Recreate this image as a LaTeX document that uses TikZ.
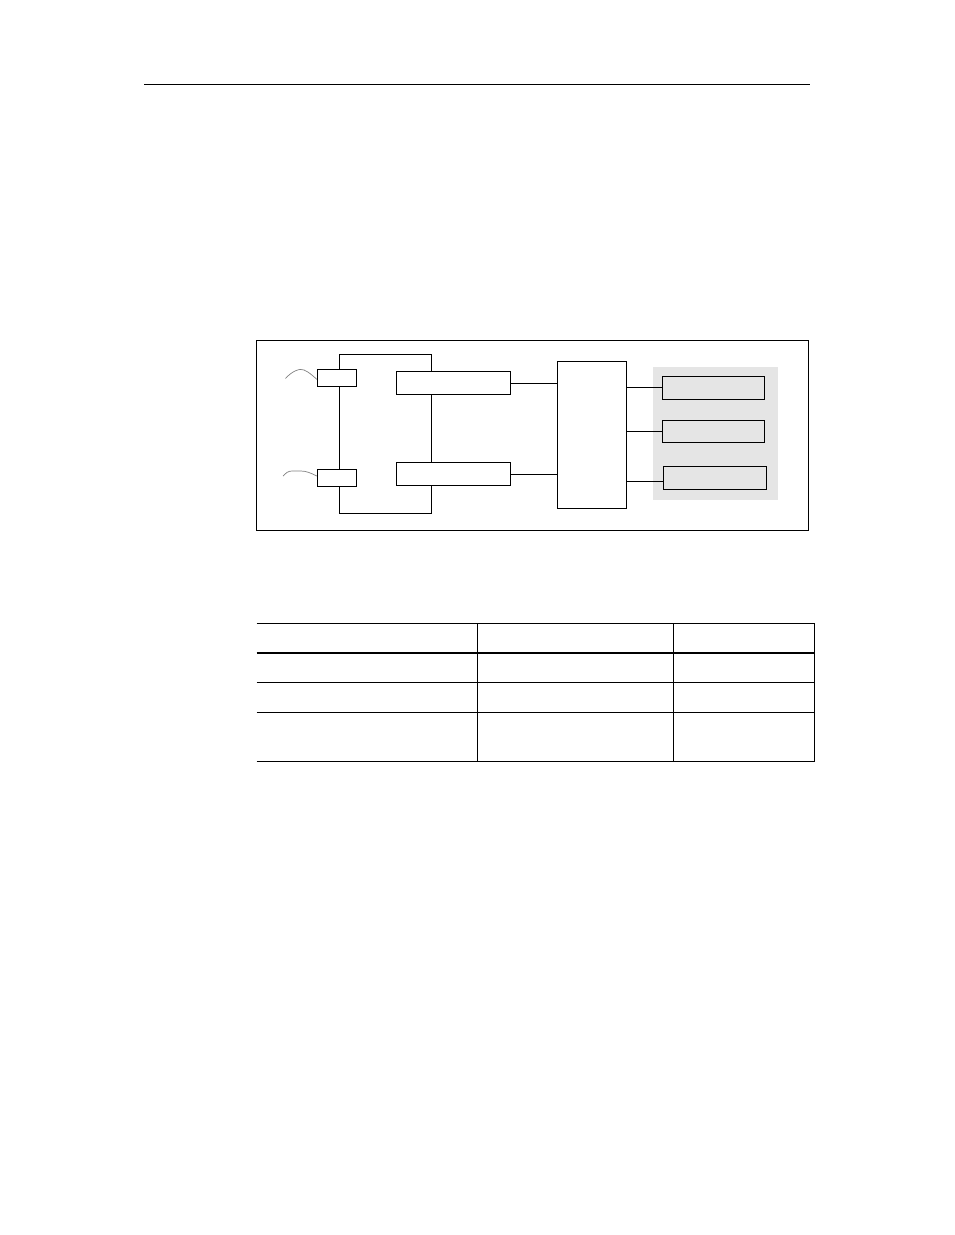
\documentclass[tikz,border=0pt]{standalone}
\begin{document}
\begin{tikzpicture}[x=1pt,y=-1pt,line width=1pt,
  blk/.style={draw,rectangle,inner sep=0pt,line width=1pt},
  lead/.style={draw=gray,line width=0.7pt}]
\useasboundingbox (0,0) rectangle (954,1235);
% header rule
\coordinate (h1) at (144,84.5);
\coordinate (h2) at (810,84.5);
\draw[line width=1pt] (h1) -- (h2);
% outer frame
\node[blk,minimum width=551.8pt,minimum height=190pt] (frame) at (532.4,435) {};
% gray panel
\fill[gray!20] (652.7,366.7) rectangle (778,500);
% blocks
\node[blk,minimum width=39.4pt,minimum height=16.7pt] (st) at (337,378.3) {};
\node[blk,minimum width=39.4pt,minimum height=17.4pt] (sb) at (337,478) {};
\node[blk,minimum width=114.3pt,minimum height=23.7pt] (bt) at (453.2,383) {};
\node[blk,minimum width=114.3pt,minimum height=22.7pt] (bb) at (453.2,474.3) {};
\node[blk,minimum width=69.4pt,minimum height=147.3pt] (c) at (592,434.7) {};
\node[blk,fill=gray!20,minimum width=102.4pt,minimum height=23pt] (r1) at (713.5,387.8) {};
\node[blk,fill=gray!20,minimum width=102.4pt,minimum height=22.3pt] (r2) at (713.5,431.2) {};
\node[blk,fill=gray!20,minimum width=103.4pt,minimum height=23.3pt] (r3) at (715,477.7) {};
% loop
\coordinate (tl) at (339.3,354.3);
\coordinate (tr) at (431.3,354.3);
\coordinate (bl) at (339.3,513.3);
\coordinate (br) at (431.3,513.3);
\draw (st.north -| tl) -- (tl) -- (tr) -- (bt.north -| tr);
\draw (bt.south -| tr) -- (bb.north -| tr);
\draw (bb.south -| tr) -- (br) -- (bl) -- (sb.south -| bl);
\draw (sb.north -| bl) -- (st.south -| bl);
% connectors
\draw (bt.east) -- (bt.east -| c.west);
\draw (bb.east) -- (bb.east -| c.west);
\coordinate (r1in) at (r1.west);
\coordinate (r2in) at (r2.west);
\coordinate (r3in) at ([yshift=-3.3pt]r3.west);
\draw (c.east |- r1in) -- (r1in);
\draw (c.east |- r2in) -- (r2in);
\draw (c.east |- r3in) -- (r3in);
% leads
\coordinate (la) at (285.5,378.5);
\coordinate (lb) at (283,476);
\draw[lead] (la) .. controls (292,371) and (300,368) .. (304,370) .. controls (309,372) and (313,376) .. ([yshift=-1pt]st.west);
\draw[lead] (lb) .. controls (286,473) and (288,471) .. (292,471) -- (301,471) .. controls (306,471) and (311,473) .. ([yshift=2pt]sb.west);
% table
\draw[line width=1.6pt] (256.5,623.5) -- (815,623.5);
\draw[line width=2.6pt] (256.5,653) -- (815,653);
\draw (256.5,682) -- (815,682);
\draw (256.5,712) -- (815,712);
\draw (256.5,761) -- (815,761);
\draw (477.3,623.5) -- (477.3,761);
\draw (673.6,623.5) -- (673.6,761);
\draw (814,623.5) -- (814,761);
\end{tikzpicture}
\end{document}
